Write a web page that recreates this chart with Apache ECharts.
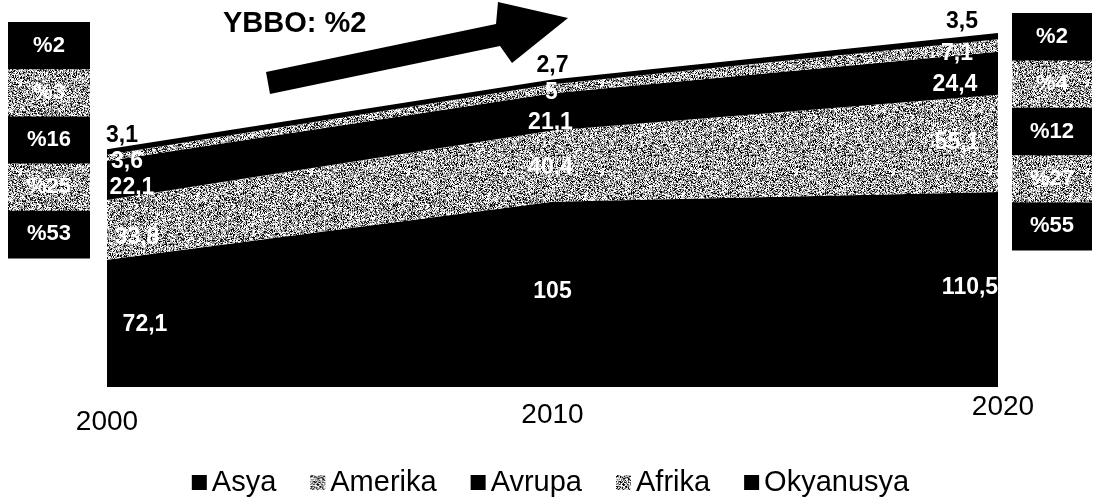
<!DOCTYPE html>
<html>
<head>
<meta charset="utf-8">
<script src="https://cdn.jsdelivr.net/npm/echarts@6/dist/echarts.min.js"></script>
<style>
  html, body { margin: 0; padding: 0; background: #ffffff; }
  #chart { width: 1101px; height: 499px; }
</style>
</head>
<body>
<div id="chart"></div>
<script>
// ---- data ----
const years = ['2000', '2010', '2020'];
const seriesNames = ['Asya', 'Amerika', 'Avrupa', 'Afrika', 'Okyanusya'];
const asya = [72.1, 105, 110.5];
const amerika = [33.8, 40.4, 55.1];
const avrupa = [22.1, 21.1, 24.4];
const afrika = [3.6, 5, 7.1];
const okyanusya = [3.1, 2.7, 3.5];
const shares2000 = ['%2', '%3', '%16', '%25', '%53'];
const shares2020 = ['%2', '%4', '%12', '%27', '%55'];
const titleText = 'YBBO: %2';

// ---- styling / layout ----
const FONT = "'Liberation Sans', Arial, sans-serif";
function hash(x, y) {
  let n = Math.imul(x, 374761393) + Math.imul(y, 668265263);
  n = Math.imul(n ^ (n >>> 13), 1274126177);
  n = n ^ (n >>> 16);
  return (n >>> 0) / 4294967296;
}
function makeTexture() {
  const c = document.createElement('canvas');
  c.width = 97; c.height = 89;
  const ctx = c.getContext('2d');
  const img = ctx.createImageData(c.width, c.height);
  for (let y = 0; y < c.height; y++) {
    for (let x = 0; x < c.width; x++) {
      const p = hash(x + 11, y + 7);
      let v;
      if (p < 0.32) v = 255; else if (p < 0.57) v = 190; else if (p < 0.80) v = 110; else v = 10;
      const i = (y * c.width + x) * 4;
      img.data[i] = v; img.data[i + 1] = v; img.data[i + 2] = v; img.data[i + 3] = 255;
    }
  }
  ctx.putImageData(img, 0, 0);
  return c;
}
const tex = makeTexture();
const texFill = { image: tex, repeat: 'repeat' };

const seriesData = [asya, amerika, avrupa, afrika, okyanusya];
const fills = ['#000000', texFill, '#000000', texFill, '#000000'];
const labelColors = ['#ffffff', '#ffffff', '#ffffff', '#ffffff', '#000000'];
const labelOffsets = [
  [[38, 65], [0, 90], [-28, 96]],
  [[30, 38], [-2, 37], [-41, 48]],
  [[25, 27], [-2, 29], [-43, 33]],
  [[20, 7], [-1, 8], [-41, 14]],
  [[15, -14], [0, -14], [-36, -11]]
];

const totals = years.map((_, i) => seriesData.reduce((s, arr) => s + arr[i], 0));
const yMax = Math.max.apply(null, totals);

const series = seriesNames.map((name, si) => ({
  name: name,
  type: 'line',
  stack: 'total',
  symbol: 'circle',
  symbolSize: 0.1,
  showSymbol: true,
  lineStyle: { width: 0 },
  itemStyle: { color: fills[si] },
  areaStyle: { color: fills[si], opacity: 1 },
  emphasis: { disabled: true },
  label: {
    show: true,
    position: 'inside',
    color: labelColors[si],
    fontFamily: FONT,
    fontWeight: 'bold',
    fontSize: 23,
    formatter: p => String(p.value).replace('.', ',')
  },
  data: seriesData[si].map((v, i) => ({
    value: v,
    label: { offset: labelOffsets[si][i] }
  }))
}));

// side boxes
const graphics = [];
function addBox(x, top, w, bandH, texts) {
  texts.forEach((t, i) => {
    const y = top + i * bandH;
    const gray = (i % 2 === 1);
    graphics.push({
      type: 'rect',
      shape: { x: x, y: y, width: w, height: bandH + 0.5 },
      style: { fill: gray ? texFill : '#000000' },
      silent: true
    });
    graphics.push({
      type: 'text',
      x: x + w / 2,
      y: y + bandH / 2,
      style: {
        text: t,
        fill: '#ffffff',
        font: 'bold 22px ' + FONT,
        align: 'center',
        verticalAlign: 'middle'
      },
      silent: true
    });
  });
}
addBox(8, 22, 82, 47.2, shares2000);
addBox(1012, 13, 80, 47.4, shares2020);

// arrow
graphics.push({
  type: 'polygon',
  shape: { points: [[266, 72], [496, 24], [498, 2], [568, 18], [512, 63], [500, 46], [270, 94]] },
  style: { fill: '#000000' },
  silent: true
});
graphics.push({
  type: 'text',
  x: 223,
  y: 24,
  style: {
    text: titleText,
    fill: '#000000',
    font: 'bold 29px ' + FONT,
    align: 'left',
    verticalAlign: 'middle'
  },
  silent: true
});

const chart = echarts.init(document.getElementById('chart'), null, { renderer: 'canvas' });
chart.setOption({
  animation: false,
  backgroundColor: '#ffffff',
  grid: { left: 107, right: 103, top: 33, bottom: 112 },
  xAxis: {
    type: 'category',
    data: years,
    boundaryGap: false,
    axisLine: { show: false },
    axisTick: { show: false },
    splitLine: { show: false },
    axisLabel: {
      interval: 0,
      margin: 6,
      color: '#000000',
      fontFamily: FONT,
      fontSize: 28,
      formatter: (v, i) => '{l' + i + '|' + v + '}',
      rich: {
        l0: { fontSize: 28, fontFamily: FONT, color: '#000', padding: [15, 0, 0, 0] },
        l1: { fontSize: 28, fontFamily: FONT, color: '#000', padding: [8, 0, 0, 0] },
        l2: { fontSize: 28, fontFamily: FONT, color: '#000', padding: [0, 0, 0, 10] }
      }
    }
  },
  yAxis: {
    type: 'value',
    min: 0,
    max: yMax,
    show: false,
    splitLine: { show: false }
  },
  legend: {
    data: seriesNames,
    left: 'center',
    top: 463,
    icon: 'rect',
    itemWidth: 15,
    itemHeight: 15,
    itemGap: 34,
    textStyle: { fontFamily: FONT, fontSize: 29, color: '#000000' }
  },
  graphic: graphics,
  series: series
});
</script>
</body>
</html>
